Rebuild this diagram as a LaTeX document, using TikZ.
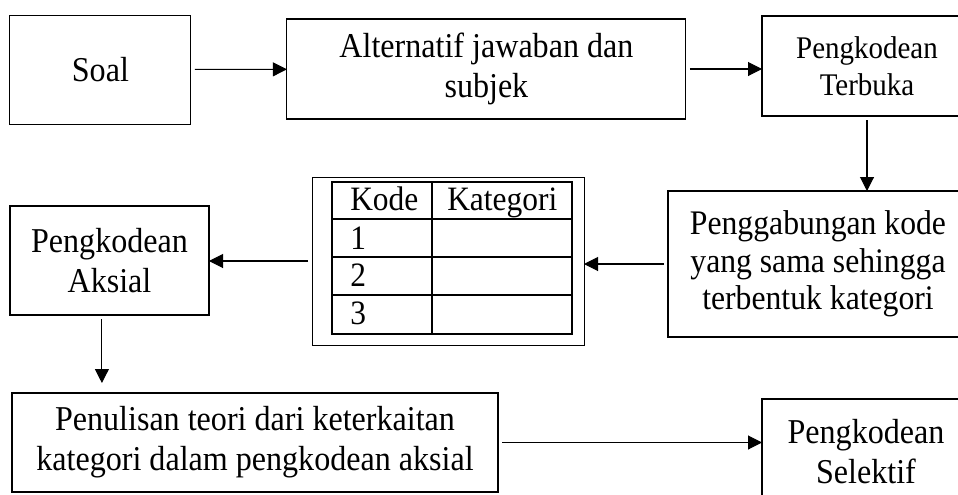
\documentclass[tikz,border=0pt]{standalone}
\usepackage{fontspec}
\setmainfont[FakeStretch=0.92]{Liberation Serif}
\usetikzlibrary{positioning, arrows.meta, calc}

\begin{document}
\begin{tikzpicture}[
  box/.style={draw, line width=0.8pt, align=center, inner sep=0pt, outer sep=0pt, font=\fontsize{24.8}{28.4}\selectfont},
  flow/.style={-{Triangle[length=0.35cm, width=0.35cm]}, line width=0.75pt, shorten <=0.1cm},
  grid/.style={line width=1.4pt},
  cell/.style={anchor=base west, inner sep=0pt, font=\fontsize{24.3}{26}\selectfont}]
\useasboundingbox (0,0) rectangle (23.95,-12.35);
% first row
\node[box, minimum width=4.525cm, minimum height=2.725cm] (soal) at (2.51,-1.74) {Soal};
\node[box, minimum width=9.975cm, minimum height=2.5cm] (alt) at (12.16,-1.725) {Alternatif jawaban dan\\subjek};
\node[box, minimum width=5.25cm, minimum height=2.5cm, font=\fontsize{22.4}{26.3}\selectfont] (terbuka) at (21.675,-1.65) {Pengkodean\\Terbuka};
% second row
\node[box, minimum width=7.5cm, minimum height=3.65cm, font=\fontsize{24.5}{26.7}\selectfont] (gabung) at (20.45,-6.6) {Penggabungan kode\\yang sama sehingga\\terbentuk kategori};
\node[draw, line width=0.7pt, inner sep=0pt, outer sep=0pt, minimum width=6.8cm, minimum height=4.2cm] (tabel) at (11.2,-6.525) {};
\node[box, minimum width=4.975cm, minimum height=2.725cm] (aksial) at (2.7375,-6.5125) {Pengkodean\\Aksial};
% code table
\draw[grid] (8.3,-4.55) rectangle (14.3,-8.35);
\foreach \y in {-5.475,-6.425,-7.375}
  \draw[grid] (8.3,\y) -- (14.3,\y);
\draw[grid] (10.8,-4.55) -- (10.8,-8.35);
\node[cell] (kode) at (8.75,-5.25) {Kode};
\node[cell] (kategori) at (11.175,-5.25) {Kategori};
\node[cell] (k1) at (8.75,-6.225) {1};
\node[cell] (k2) at (8.75,-7.15) {2};
\node[cell] (k3) at (8.75,-8.1) {3};
% third row
\node[box, minimum width=12.15cm, minimum height=2.475cm] (tulis) at (6.375,-11.0625) {Penulisan teori dari keterkaitan\\kategori dalam pengkodean aksial};
\node[box, minimum width=5.2cm, minimum height=2.65cm] (selektif) at (21.65,-11.3) {Pengkodean\\Selektif};
% arrows
\coordinate (aksialout) at ($(aksial.south)+(-0.19,0)$);
\draw[flow] (soal) -- (alt);
\draw[flow] (alt.east) -- (alt.east -| terbuka.west);
\draw[flow] (terbuka.south) -- (terbuka.south |- gabung.north);
\draw[flow] (gabung.west) -- (gabung.west -| tabel.east);
\draw[flow] (tabel.west) -- (tabel.west -| aksial.east);
\draw[flow, shorten >=0.25cm] (aksialout) -- (aksialout |- tulis.north);
\draw[flow] (tulis.east) -- (tulis.east -| selektif.west);
\end{tikzpicture}
\end{document}
